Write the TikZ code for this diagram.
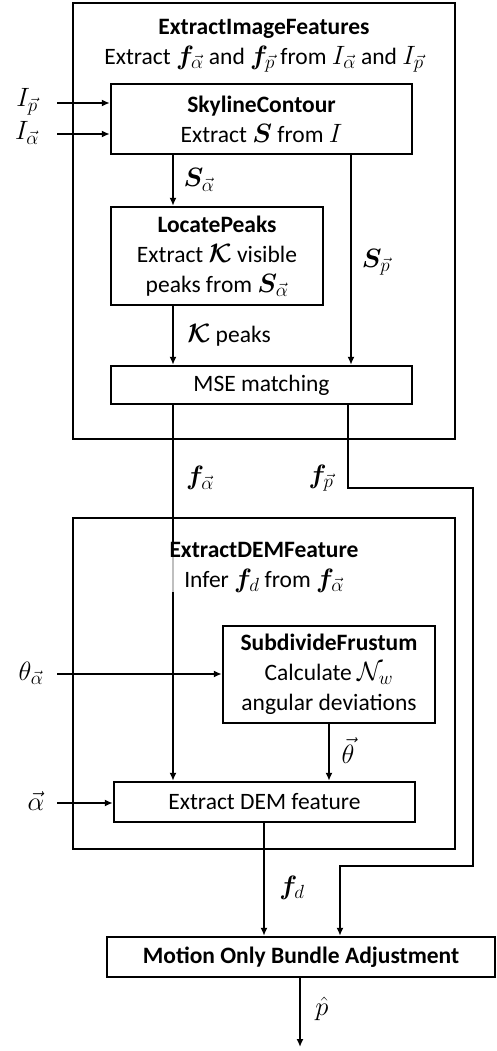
\RequirePackage{fix-cm}
\documentclass[tikz,border=0pt]{standalone}
\usepackage{amsmath,bm}
\usepackage{fontspec}
\setmainfont{Carlito}
\DeclareMathSizes{23.5}{26.5}{19}{15}
\usetikzlibrary{arrows.meta}
\begin{document}
\begin{tikzpicture}[x=1pt,y=-1pt,
  font=\fontsize{23.5}{30}\selectfont,
  line width=2.4pt,
  arr/.style={-{Latex[length=8pt,width=7pt]}},
  blk/.style={draw, rectangle, inner sep=0pt, align=center},
  outer/.style={draw, rectangle, inner sep=0pt, line width=2.6pt},
  lab/.style={inner sep=0pt}
]
\useasboundingbox (0,0) rectangle (497,1051);
% outer boxes
\node[outer, minimum width=382pt, minimum height=436pt] (box1) at (264,221) {};
\node[outer, minimum width=382pt, minimum height=331pt] (box2) at (264,683.5) {};
% inner blocks
\node[blk, minimum width=301pt, minimum height=70pt] (sky) at (261.5,119) {\textbf{SkylineContour}\\Extract $\boldsymbol{S}$ from $I$};
\node[blk, minimum width=212pt, minimum height=98pt] (lp) at (217,256) {\textbf{LocatePeaks}\\Extract $\boldsymbol{\mathcal{K}}$ visible\\peaks from $\boldsymbol{S}_{\vec{\alpha}}$};
\node[blk, minimum width=301pt, minimum height=38pt] (mse) at (261.5,385) {MSE matching};
\node[blk, minimum width=212pt, minimum height=97pt] (sf) at (329,674.5) {\textbf{SubdivideFrustum}\\Calculate $\mathcal{N}_w$\\angular deviations};
\node[blk, minimum width=301pt, minimum height=40pt] (edem) at (264.5,802) {Extract DEM feature};
\node[blk, minimum width=388pt, minimum height=40pt] (moba) at (301,957) {\textbf{Motion Only Bundle Adjustment}};
% titles
\node[lab, align=center] (t1) at (264,46) {\textbf{ExtractImageFeatures}\\Extract $\boldsymbol{f}_{\vec{\alpha}}$ and $\boldsymbol{f}_{\vec{p}}$ from $I_{\vec{\alpha}}$ and $I_{\vec{p}}$};
% x positions
\coordinate (xa) at (173,0);
\coordinate (xb) at (351,0);
\coordinate (xc) at (348,0);
\coordinate (xd) at (473,0);
\coordinate (xe) at (340,0);
\coordinate (xf) at (329,0);
\coordinate (xg) at (264,0);
\coordinate (xh) at (300,0);
% inputs
\coordinate (iIp) at (57,103);
\coordinate (iIa) at (57,134);
\coordinate (ith) at (57,674);
\coordinate (ial) at (57,803);
\node[lab] (lIp) at (27,102) {$I_{\vec{p}}$};
\node[lab] (lIa) at (27,133) {$I_{\vec{\alpha}}$};
\node[lab] (lth) at (31,673) {$\theta_{\vec{\alpha}}$};
\node[lab] (lal) at (36,801) {$\vec{\alpha}$};
\draw[arr] (iIp) -- (iIp -| sky.west);
\draw[arr] (iIa) -- (iIa -| sky.west);
\draw[arr] (ith) -- (ith -| sf.west);
\draw[arr] (ial) -- (ial -| edem.west);
% internal connectors
\draw[arr] (sky.south -| xa) -- (lp.north -| xa);
\node[lab] (lSa) at (199,180) {$\boldsymbol{S}_{\vec{\alpha}}$};
\draw[arr] (sky.south -| xb) -- (mse.north -| xb);
\node[lab] (lSp) at (376,262) {$\boldsymbol{S}_{\vec{p}}$};
\draw[arr] (lp.south -| xa) -- (mse.north -| xa);
\node[lab] (lK) at (229,335) {$\boldsymbol{\mathcal{K}}$ peaks};
% f_alpha
\draw[arr] (mse.south -| xa) -- (edem.north -| xa);
\node[lab] (lfa) at (200,478) {$\boldsymbol{f}_{\vec{\alpha}}$};
\node[lab] (lfp) at (321,478) {$\boldsymbol{f}_{\vec{p}}$};
% f_p
\coordinate (fp1) at (348,488);
\coordinate (fp2) at (473,866);
\draw[arr] (mse.south -| xc) -- (fp1) -| (fp2) -| (moba.north -| xe);
% title box 2 (over the f_alpha line)
\node[lab, align=center, fill=white, fill opacity=0.75, text opacity=1] (t2) at (264,567) {\textbf{ExtractDEMFeature}\\Infer $\boldsymbol{f}_{d}$ from $\boldsymbol{f}_{\vec{\alpha}}$};
% theta vec
\draw[arr] (sf.south -| xf) -- (edem.north -| xf);
\node[lab] (lthv) at (348,751) {$\vec{\theta}$};
% f_d
\draw[arr] (edem.south -| xg) -- (moba.north -| xg);
\node[lab] (lfd) at (292,888) {$\boldsymbol{f}_{d}$};
% output
\coordinate (out) at (300,1047);
\draw[arr] (moba.south -| xh) -- (out);
\node[lab] (lph) at (322,1009) {$\hat{p}$};
\end{tikzpicture}
\end{document}
